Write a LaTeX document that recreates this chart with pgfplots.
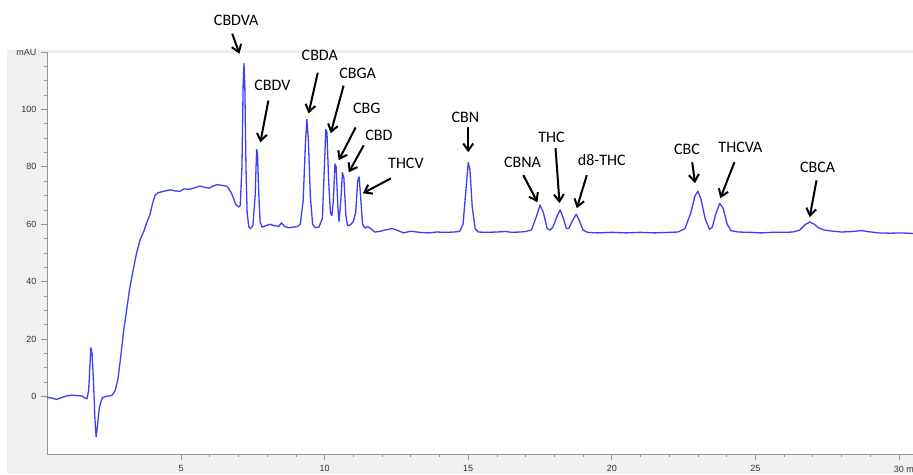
\documentclass[border=0pt]{standalone}
\usepackage{fontspec}
\setmainfont{Carlito}
\newfontfamily\tickfont{Liberation Sans}
\usepackage{pgfplots}
\pgfplotsset{compat=1.18}
\usetikzlibrary{arrows.meta}
\definecolor{trace}{RGB}{62,62,250}
\definecolor{panel}{RGB}{240,240,240}
\definecolor{axgray}{RGB}{150,150,150}
\begin{document}
\begin{tikzpicture}[x=1pt,y=1pt,
  annot/.style={font=\fontsize{16}{18}\selectfont, anchor=center, inner sep=0pt},
  arr/.style={-{Straight Barb[length=7pt,width=10pt,line width=2pt]}, line width=2pt, black}]
\fill[white] (0,0) rectangle (913,474);
\fill[panel] (7,0) rectangle (913,424);
\fill[white] (47,20) rectangle (913,422);
\draw[black!8, line width=0.8pt] (47,422) -- (913,422);
\begin{axis}[
  at={(47pt,20pt)}, anchor=south west, scale only axis,
  width=866pt, height=402pt,
  xmin=0.33, xmax=30.49, ymin=-20, ymax=120,
  axis x line*=bottom, axis y line*=left,
  axis line style={axgray, line width=0.9pt},
  xtick={5,10,15,20,25,30},
  xticklabels={5,10,15,20,25,30\rlap{ min}},
  ytick={0,20,40,60,80,100,120},
  yticklabels={0,20,40,60,80,100,mAU},
  minor x tick num=4, minor y tick num=3,
  tick align=outside,
  major tick length=6pt, minor tick length=3pt,
  every tick/.style={axgray, line width=0.8pt},
  /pgf/number format/assume math mode=true,
  tick label style={font=\tickfont\fontsize{9}{10}\selectfont, text=black!80},
  xticklabel style={yshift=-2pt},
  yticklabel style={xshift=-1pt},
  clip=false,
]
\addplot[trace, line width=1.3pt, line join=round] coordinates {
(0.33,-0.3) (0.5,-0.5) (0.65,-1.0) (0.8,-0.5) (1.0,0.2) (1.2,0.5) (1.4,0.3) (1.55,0.2) (1.65,-0.5) (1.72,-0.8)
(1.78,2) (1.83,12) (1.86,17) (1.9,15) (1.95,5) (2.0,-8) (2.04,-14) (2.08,-11) (2.15,-4) (2.25,-0.5)
(2.35,0) (2.5,0.2) (2.6,0.5) (2.7,2) (2.8,6) (2.9,14) (3.0,23) (3.1,30) (3.2,37) (3.33,44)
(3.45,50) (3.57,54.5) (3.7,57.5) (3.8,60.5) (3.92,63.5) (4.0,67) (4.09,70) (4.2,71) (4.4,71.5) (4.62,72)
(4.8,71.6) (4.96,71.5) (5.1,72.3) (5.3,72.2) (5.5,72.8) (5.66,73.3) (5.85,72.8) (6.0,72.6) (6.1,73.3) (6.25,73.8)
(6.4,73.6) (6.6,73.2) (6.72,71.5) (6.81,69.5) (6.9,67) (7.0,66) (7.06,66.5) (7.12,80) (7.16,108) (7.19,116)
(7.22,108) (7.26,80) (7.3,64) (7.36,59) (7.42,58.5) (7.5,59.5) (7.58,70) (7.63,86) (7.66,85) (7.7,72)
(7.75,61) (7.82,59) (7.95,59.5) (8.1,60) (8.25,59.5) (8.4,59.3) (8.5,60.5) (8.6,59.2) (8.75,58.8) (8.9,59)
(9.05,59.2) (9.15,60) (9.25,68) (9.33,88) (9.38,96.5) (9.43,90) (9.5,70) (9.58,60) (9.68,58.8) (9.8,59)
(9.92,62) (9.99,80) (10.04,93) (10.08,92) (10.14,75) (10.2,64) (10.25,63) (10.3,68) (10.36,81) (10.4,80)
(10.46,66) (10.5,61) (10.56,68) (10.62,78) (10.67,76) (10.74,63) (10.8,59.5) (10.9,59.8) (11.0,61) (11.08,64)
(11.15,75) (11.2,76.5) (11.25,70) (11.32,60) (11.4,58.7) (11.5,59.2) (11.6,58.5) (11.75,57.3) (11.9,57.5) (12.1,58)
(12.35,58.5) (12.5,58) (12.75,57) (13.0,57.6) (13.3,57.2) (13.6,57) (13.9,57.3) (14.2,57.2) (14.5,57.3) (14.7,57.5)
(14.82,60) (14.92,72) (15.0,81.5) (15.06,79) (15.14,66) (15.24,58.5) (15.35,57.3) (15.6,57.2) (16.0,57.3) (16.3,57.5)
(16.5,57.2) (16.8,57.3) (17.0,57.5) (17.2,58) (17.35,62) (17.5,66.7) (17.62,64) (17.75,58.5) (17.85,58) (17.95,59)
(18.1,63) (18.2,65) (18.3,62.5) (18.42,58.5) (18.5,58.5) (18.62,61) (18.76,63.5) (18.88,61) (19.0,58) (19.15,57.2)
(19.5,57) (20.0,57.2) (20.5,57) (21.0,57.2) (21.5,57) (22.0,57.2) (22.3,57.3) (22.55,58.5) (22.75,64) (22.9,70)
(23.0,71.5) (23.1,69) (23.25,62) (23.4,58.2) (23.5,59) (23.62,63.5) (23.76,67.3) (23.88,65.5) (24.02,60) (24.15,57.8)
(24.4,57.3) (24.8,57.2) (25.2,57) (25.6,57.2) (26.0,57.2) (26.3,57.3) (26.55,58) (26.75,60) (26.9,60.8) (27.05,60)
(27.2,58.8) (27.4,58) (27.7,57.6) (28.0,57.3) (28.4,57.5) (28.7,57.8) (28.95,57.4) (29.3,57) (29.7,56.9) (30.1,57)
(30.49,56.8)
};
\node[annot] at (axis cs:6.92,130.9) {CBDVA};
\draw[arr] (axis cs:6.78,126.4) -- (axis cs:7.03,119.4);
\node[annot] at (axis cs:8.18,108.3) {CBDV};
\draw[arr] (axis cs:8.04,103.1) -- (axis cs:7.76,88.5);
\node[annot] at (axis cs:9.83,118.75) {CBDA};
\draw[arr] (axis cs:9.76,112.8) -- (axis cs:9.44,98.6);
\node[annot] at (axis cs:11.15,112.5) {CBGA};
\draw[arr] (axis cs:10.66,108.3) -- (axis cs:10.21,91.7);
\node[annot] at (axis cs:11.47,100.3) {CBG};
\draw[arr] (axis cs:11.08,93.75) -- (axis cs:10.49,82.3);
\node[annot] at (axis cs:11.89,91.0) {CBD};
\draw[arr] (axis cs:11.36,87.5) -- (axis cs:10.84,78.1);
\node[annot] at (axis cs:12.83,81.25) {THCV};
\draw[arr] (axis cs:12.31,76.0) -- (axis cs:11.33,70.8);
\node[annot] at (axis cs:14.9,97.2) {CBN};
\draw[arr] (axis cs:15.0,93.75) -- (axis cs:15.0,85.1);
\node[annot] at (axis cs:16.89,81.6) {CBNA};
\draw[arr] (axis cs:16.92,77.1) -- (axis cs:17.41,67.7);
\node[annot] at (axis cs:17.9,90.3) {THC};
\draw[arr] (axis cs:18.04,86.5) -- (axis cs:18.18,67.4);
\node[annot] at (axis cs:19.65,82.3) {d8-THC};
\draw[arr] (axis cs:19.13,77.1) -- (axis cs:18.78,65.6);
\node[annot] at (axis cs:22.62,86.1) {CBC};
\draw[arr] (axis cs:22.8,81.6) -- (axis cs:22.9,74.3);
\node[annot] at (axis cs:24.48,86.8) {THCVA};
\draw[arr] (axis cs:24.27,81.6) -- (axis cs:23.78,69.1);
\node[annot] at (axis cs:27.17,79.9) {CBCA};
\draw[arr] (axis cs:27.13,75.3) -- (axis cs:26.89,62.5);
\end{axis}
\pgfresetboundingbox
\useasboundingbox (0,0) rectangle (913,474);
\end{tikzpicture}
\end{document}
